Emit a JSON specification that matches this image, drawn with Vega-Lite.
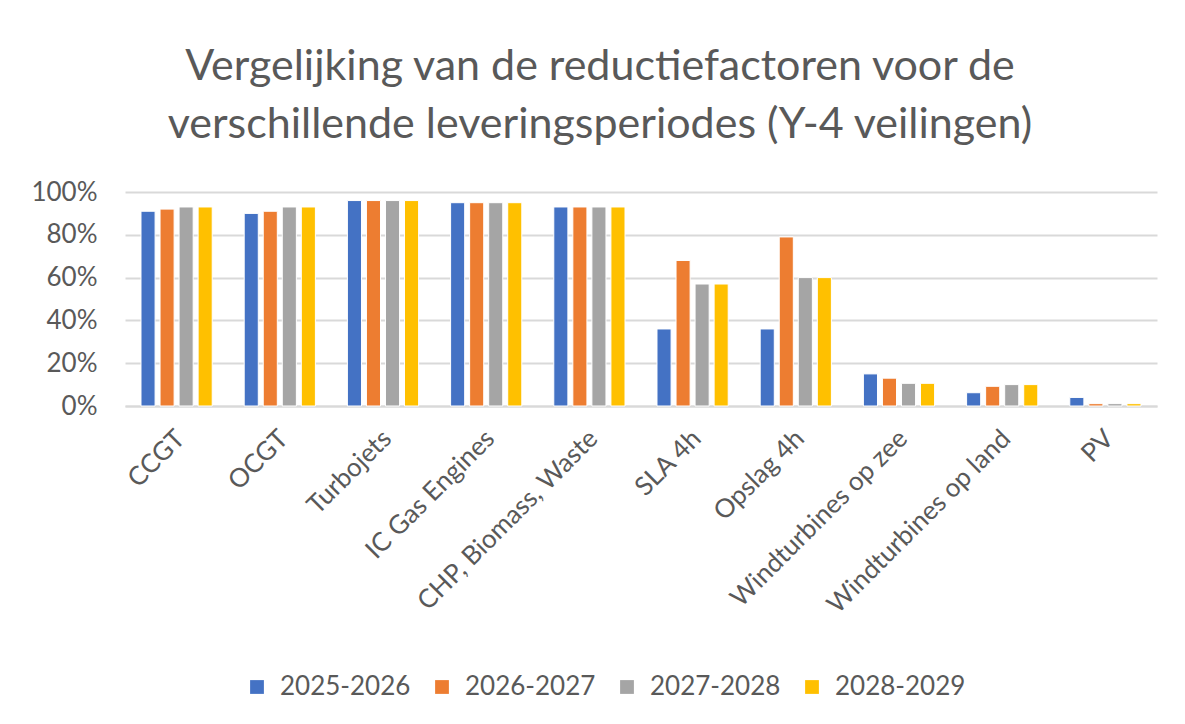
{
  "$schema": "https://vega.github.io/schema/vega-lite/v6.json",
  "autosize": "none",
  "width": 1032,
  "height": 214,
  "padding": {"left": 125, "top": 192, "right": 28, "bottom": 318},
  "background": "white",
  "title": {
    "text": ["Vergelijking van de reductiefactoren voor de", "verschillende leveringsperiodes (Y-4 veilingen)"],
    "font": "Lato",
    "fontSize": 43,
    "fontWeight": "normal",
    "color": "#595959",
    "lineHeight": 58,
    "anchor": "middle",
    "dx": -41,
    "offset": 32
  },
  "data": {
    "values": [
      {"cat": "CCGT", "period": "2025-2026", "value": 0.91},
      {"cat": "CCGT", "period": "2026-2027", "value": 0.92},
      {"cat": "CCGT", "period": "2027-2028", "value": 0.93},
      {"cat": "CCGT", "period": "2028-2029", "value": 0.93},
      {"cat": "OCGT", "period": "2025-2026", "value": 0.90},
      {"cat": "OCGT", "period": "2026-2027", "value": 0.91},
      {"cat": "OCGT", "period": "2027-2028", "value": 0.93},
      {"cat": "OCGT", "period": "2028-2029", "value": 0.93},
      {"cat": "Turbojets", "period": "2025-2026", "value": 0.96},
      {"cat": "Turbojets", "period": "2026-2027", "value": 0.96},
      {"cat": "Turbojets", "period": "2027-2028", "value": 0.96},
      {"cat": "Turbojets", "period": "2028-2029", "value": 0.96},
      {"cat": "IC Gas Engines", "period": "2025-2026", "value": 0.95},
      {"cat": "IC Gas Engines", "period": "2026-2027", "value": 0.95},
      {"cat": "IC Gas Engines", "period": "2027-2028", "value": 0.95},
      {"cat": "IC Gas Engines", "period": "2028-2029", "value": 0.95},
      {"cat": "CHP, Biomass, Waste", "period": "2025-2026", "value": 0.93},
      {"cat": "CHP, Biomass, Waste", "period": "2026-2027", "value": 0.93},
      {"cat": "CHP, Biomass, Waste", "period": "2027-2028", "value": 0.93},
      {"cat": "CHP, Biomass, Waste", "period": "2028-2029", "value": 0.93},
      {"cat": "SLA 4h", "period": "2025-2026", "value": 0.36},
      {"cat": "SLA 4h", "period": "2026-2027", "value": 0.68},
      {"cat": "SLA 4h", "period": "2027-2028", "value": 0.57},
      {"cat": "SLA 4h", "period": "2028-2029", "value": 0.57},
      {"cat": "Opslag 4h", "period": "2025-2026", "value": 0.36},
      {"cat": "Opslag 4h", "period": "2026-2027", "value": 0.79},
      {"cat": "Opslag 4h", "period": "2027-2028", "value": 0.60},
      {"cat": "Opslag 4h", "period": "2028-2029", "value": 0.60},
      {"cat": "Windturbines op zee", "period": "2025-2026", "value": 0.15},
      {"cat": "Windturbines op zee", "period": "2026-2027", "value": 0.13},
      {"cat": "Windturbines op zee", "period": "2027-2028", "value": 0.106},
      {"cat": "Windturbines op zee", "period": "2028-2029", "value": 0.106},
      {"cat": "Windturbines op land", "period": "2025-2026", "value": 0.062},
      {"cat": "Windturbines op land", "period": "2026-2027", "value": 0.092},
      {"cat": "Windturbines op land", "period": "2027-2028", "value": 0.10},
      {"cat": "Windturbines op land", "period": "2028-2029", "value": 0.10},
      {"cat": "PV", "period": "2025-2026", "value": 0.04},
      {"cat": "PV", "period": "2026-2027", "value": 0.011},
      {"cat": "PV", "period": "2027-2028", "value": 0.011},
      {"cat": "PV", "period": "2028-2029", "value": 0.011}
    ]
  },
  "mark": {"type": "bar", "stroke": "white", "strokeWidth": 1},
  "encoding": {
    "x": {
      "field": "cat",
      "type": "nominal",
      "sort": null,
      "title": null,
      "scale": {"paddingInner": 0.31, "paddingOuter": 0.155},
      "axis": {
        "labelAngle": -45,
        "labelAlign": "right",
        "labelBaseline": "top",
        "labelPadding": 19,
        "labelOffset": -5,
        "labelFont": "Lato",
        "labelFontSize": 26,
        "labelColor": "#595959",
        "ticks": false,
        "domainColor": "#d9d9d9",
        "domainWidth": 2,
        "grid": false,
        "labelLimit": 400
      }
    },
    "xOffset": {
      "field": "period",
      "type": "nominal",
      "scale": {"paddingInner": 0.26, "paddingOuter": 0}
    },
    "y": {
      "field": "value",
      "type": "quantitative",
      "title": null,
      "scale": {"domain": [0, 1]},
      "axis": {
        "values": [0, 0.2, 0.4, 0.6, 0.8, 1],
        "format": ".0%",
        "labelFont": "Lato",
        "labelFontSize": 26,
        "labelColor": "#595959",
        "labelPadding": 28,
        "ticks": false,
        "domain": false,
        "gridColor": "#d9d9d9",
        "gridWidth": 2
      }
    },
    "color": {
      "field": "period",
      "type": "nominal",
      "scale": {
        "domain": ["2025-2026", "2026-2027", "2027-2028", "2028-2029"],
        "range": ["#4472C4", "#ED7D31", "#A5A5A5", "#FFC000"]
      },
      "legend": {
        "title": null,
        "orient": "none",
        "legendX": 119,
        "legendY": 482,
        "direction": "horizontal",
        "columns": 4,
        "columnPadding": 18,
        "symbolType": "square",
        "symbolSize": 190,
        "symbolStrokeWidth": 0,
        "labelFont": "Lato",
        "labelFontSize": 26,
        "labelColor": "#595959",
        "labelOffset": 10,
        "labelLimit": 300
      }
    }
  },
  "config": {
    "view": {"stroke": null}
  }
}
